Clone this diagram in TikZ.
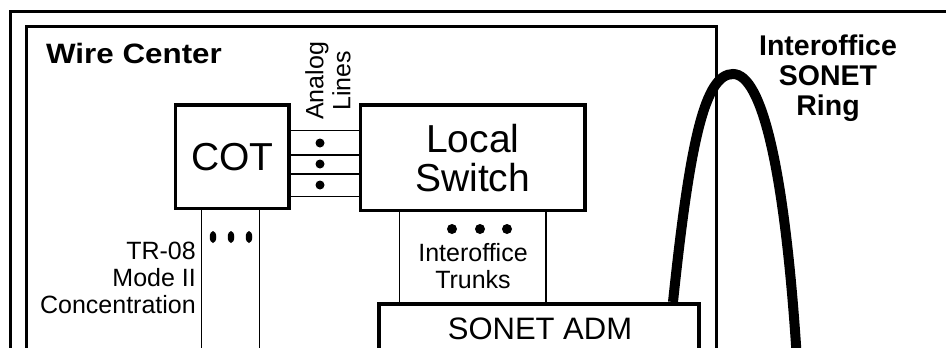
\documentclass[tikz,border=0pt]{standalone}
\usepackage{fontspec}
\usepackage{graphicx}
\setmainfont{Liberation Sans}
\usetikzlibrary{shapes.geometric}
\begin{document}
\begin{tikzpicture}[x=1pt,y=-1pt,
  blk/.style={draw, line width=3.5pt, inner sep=0pt, font=\fontsize{39}{42}\selectfont, align=center},
  frame/.style={line width=3pt},
  wire/.style={line width=1.5pt},
  lbl/.style={inner sep=0pt, font=\fontsize{25}{27}\selectfont},
  big/.style={inner sep=0pt, font=\bfseries\fontsize{28.5}{30}\selectfont, align=center},
  rdot/.style={fill, circle, inner sep=0pt, minimum size=9pt},
  edot/.style={fill, ellipse, inner sep=0pt, minimum width=6.5pt, minimum height=12pt},
  ring/.style={line width=10pt}]
\clip (0,0) rectangle (946,348);
\fill[white] (0,0) rectangle (946,348);

% frames
\draw[frame] (10.5,360) -- (10.5,11.3) -- (960,11.3);
\draw[frame] (26.5,360) |- (716.5,26.5) -- (716.5,360);
\node[inner sep=0pt, font=\bfseries\fontsize{28}{30}\selectfont] (wc) at (134,53) {\scalebox{1.12}[1]{Wire Center}};

% blocks
\node[blk, minimum width=113.5pt, minimum height=103.5pt] (cot) at (232.25,156.75) {COT};
\node[blk, minimum width=224.5pt, minimum height=105.5pt] (sw) at (472.75,157.75) {Local\\[-3pt]Switch};
\node[blk, anchor=north, minimum width=320pt, minimum height=58pt] (adm) at (539,302) {};
\node[inner sep=0pt, font=\fontsize{31}{35}\selectfont] (admt) at (540,329) {SONET ADM};

% analog lines
\foreach \yy in {130.7,155,174,196.7}
  \draw[wire] (cot.east |- 0,\yy) -- (sw.west |- 0,\yy);
\node[rdot] (a1) at (320,143) {};
\node[rdot] (a2) at (320,164) {};
\node[rdot] (a3) at (320,185) {};
\node[lbl, rotate=90, align=center] (al) at (328,81) {Analog\\Lines};

% COT downward lines
\coordinate (c1) at (201.7,360);
\coordinate (c2) at (259.3,360);
\draw[wire] (cot.south -| c1) -- (c1);
\draw[wire] (cot.south -| c2) -- (c2);
\node[edot] (b1) at (213,237) {};
\node[edot] (b2) at (231,237) {};
\node[edot] (b3) at (249,237) {};
\node[lbl, anchor=east, align=right] (tr) at (196,278) {TR-08\\Mode II\\Concentration};

% trunks
\draw[wire] (sw.south -| 399.3,0) -- (adm.north -| 399.3,0);
\draw[wire] (sw.south -| 546,0) -- (adm.north -| 546,0);
\node[rdot, minimum size=10pt] (t1) at (452,229) {};
\node[rdot, minimum size=10pt] (t2) at (480,229) {};
\node[rdot, minimum size=10pt] (t3) at (507,229) {};
\node[lbl, align=center] (it) at (473,266) {Interoffice\\Trunks};

% ring
\coordinate (r1) at (673,302);
\coordinate (rt) at (733,74);
\coordinate (r2) at (797,360);
\draw[ring] (r1) .. controls (690,140) and (705,74) .. (rt) .. controls (762,74) and (785,170) .. (r2);
\node[big] (rl) at (828,78) {Interoffice\\SONET\\Ring};
\end{tikzpicture}
\end{document}
